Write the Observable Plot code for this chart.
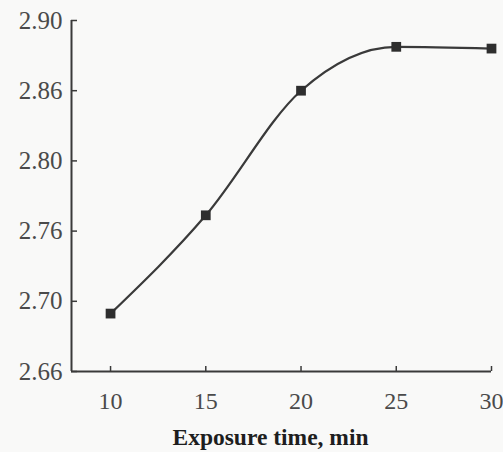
<!DOCTYPE html>
<html>
<head>
<meta charset="utf-8">
<script src="https://cdn.jsdelivr.net/npm/d3@7"></script>
<script src="https://cdn.jsdelivr.net/npm/@observablehq/plot@0.6"></script>
<style>
  html, body { margin: 0; padding: 0; background: #f9f9f8; }
  svg { display: block; }
</style>
</head>
<body>
<div id="chart"></div>
<script>
const exposure = [10, 15, 20, 25, 30];
const value = [2.693, 2.769, 2.860, 2.885, 2.884];
const xTicks = [10, 15, 20, 25, 30];
const yTicks = [2.66, 2.70, 2.76, 2.80, 2.86, 2.90];
const yTickLabels = ["2.66", "2.70", "2.76", "2.80", "2.86", "2.90"];
const xTitle = "Exposure time, min";

// The printed axis has evenly spaced ticks with uneven labels: map values piecewise onto tick slots.
const toSlot = d3.scaleLinear(yTicks, d3.range(yTicks.length));
const data = exposure.map((x, i) => ({x, y: toSlot(value[i])}));
const slots = d3.range(yTicks.length);

const ink = "#3a3a3a";
const font = "'Liberation Serif', 'Times New Roman', serif";

const chart = Plot.plot({
  width: 503,
  height: 452,
  marginTop: 20,
  marginBottom: 81,
  marginLeft: 71,
  marginRight: 12,
  style: {fontFamily: font, background: "transparent", color: ink},
  x: {domain: [7.95, 30]},
  y: {domain: [0, slots.length - 1]},
  marks: [
    Plot.ruleX([7.95], {stroke: ink, strokeWidth: 2}),
    Plot.ruleY([0], {stroke: ink, strokeWidth: 2}),
    Plot.axisY({ticks: slots, tickSize: 6, dx: 6, text: null, label: null, stroke: ink, strokeWidth: 1.5}),
    Plot.axisY({ticks: slots, tickSize: 0, tickPadding: 9, tickFormat: (d) => yTickLabels[d], fontSize: 25, fill: "#4a4a4a", stroke: "#4a4a4a", strokeWidth: 0.3, label: null}),
    Plot.axisX({ticks: xTicks, tickSize: 5, dy: -5, text: null, label: null, stroke: ink, strokeWidth: 1.5}),
    Plot.axisX({ticks: xTicks, tickSize: 0, tickPadding: 20, fontSize: 24, fill: "#4a4a4a", stroke: "#4a4a4a", strokeWidth: 0.3, label: null}),
    Plot.line(data, {x: "x", y: "y", curve: "monotone-x", stroke: ink, strokeWidth: 2.2}),
    Plot.dot(data, {x: "x", y: "y", symbol: "square", r: 5.5, fill: "#2e2e2e", stroke: "none"}),
    Plot.text([xTitle], {frameAnchor: "bottom", dx: -11, dy: 66, lineAnchor: "middle", fontSize: 23.5, fontWeight: "bold", fill: "#1e1e1e"})
  ]
});
document.getElementById("chart").appendChild(chart);
</script>
</body>
</html>
